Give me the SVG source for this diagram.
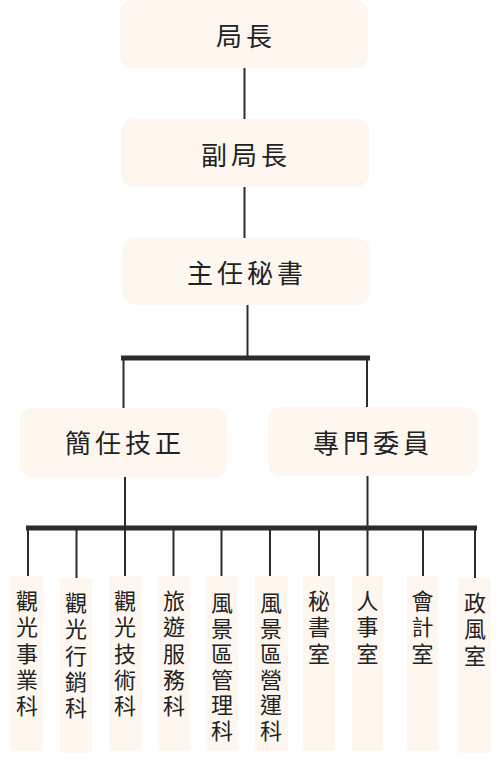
<svg xmlns="http://www.w3.org/2000/svg" width="502" height="768" viewBox="0 0 502 768">
<style>
.box{fill:#FEF7F0}
.t{font-family:"Noto Sans CJK TC","Noto Sans CJK SC",sans-serif;font-size:26px;fill:#222;text-anchor:middle;dominant-baseline:central;letter-spacing:4px}
.v{font-family:"Liberation Sans","Noto Sans CJK TC","Noto Sans CJK SC",sans-serif;font-size:22px;fill:#222;text-anchor:middle;dominant-baseline:central}
.ln{stroke:#2b2b2b;stroke-width:2;fill:none}
.bar{stroke:#2b2b2b;stroke-width:5;fill:none}
</style>
<rect width="502" height="768" fill="#fff"/>
<g id="connectors">
<line class="ln" x1="244.5" y1="68" x2="244.5" y2="119"/>
<line class="ln" x1="244.5" y1="187" x2="244.5" y2="238"/>
<line class="ln" x1="247.5" y1="305" x2="247.5" y2="358"/>
<line class="bar" x1="121" y1="358" x2="370" y2="358"/>
<line class="ln" x1="123.5" y1="358" x2="123.5" y2="408"/>
<line class="ln" x1="367" y1="358" x2="367" y2="407"/>
<line class="ln" x1="125" y1="477" x2="125" y2="528"/>
<line class="ln" x1="367.5" y1="476" x2="367.5" y2="528"/>
<line class="bar" x1="26" y1="528" x2="477" y2="528"/>
<line class="ln" x1="28" y1="528" x2="28" y2="576"/>
<line class="ln" x1="76.5" y1="528" x2="76.5" y2="578"/>
<line class="ln" x1="125" y1="528" x2="125" y2="576"/>
<line class="ln" x1="173.5" y1="528" x2="173.5" y2="576"/>
<line class="ln" x1="221.5" y1="528" x2="221.5" y2="576"/>
<line class="ln" x1="270" y1="528" x2="270" y2="576"/>
<line class="ln" x1="319" y1="528" x2="319" y2="576"/>
<line class="ln" x1="367.5" y1="528" x2="367.5" y2="576"/>
<line class="ln" x1="423" y1="528" x2="423" y2="576"/>
<line class="ln" x1="475" y1="528" x2="475" y2="578"/>
</g>
<g id="n1"><rect class="box" x="120" y="0" width="248" height="68" rx="12"/><text class="t" x="246" y="34">局長</text></g>
<g id="n2"><rect class="box" x="121" y="119" width="248" height="68" rx="12"/><text class="t" x="246" y="153">副局長</text></g>
<g id="n3"><rect class="box" x="123" y="238" width="247" height="67" rx="12"/><text class="t" x="247" y="271.5">主任秘書</text></g>
<g id="n4"><rect class="box" x="20" y="408" width="207" height="69" rx="12"/><text class="t" x="125" y="441">簡任技正</text></g>
<g id="n5"><rect class="box" x="268" y="407" width="209" height="69" rx="12"/><text class="t" x="373" y="441">專門委員</text></g>
<g id="d1"><rect class="box" x="11" y="576" width="32" height="175"/><text class="v"><tspan x="27" y="601">觀</tspan><tspan x="27" dy="26.3">光</tspan><tspan x="27" dy="26.3">事</tspan><tspan x="27" dy="26.3">業</tspan><tspan x="27" dy="26.3">科</tspan></text></g>
<g id="d2"><rect class="box" x="60" y="578" width="32" height="175"/><text class="v"><tspan x="76" y="603">觀</tspan><tspan x="76" dy="26.3">光</tspan><tspan x="76" dy="26.3">行</tspan><tspan x="76" dy="26.3">銷</tspan><tspan x="76" dy="26.3">科</tspan></text></g>
<g id="d3"><rect class="box" x="109" y="576" width="32" height="175"/><text class="v"><tspan x="125" y="601">觀</tspan><tspan x="125" dy="26.3">光</tspan><tspan x="125" dy="26.3">技</tspan><tspan x="125" dy="26.3">術</tspan><tspan x="125" dy="26.3">科</tspan></text></g>
<g id="d4"><rect class="box" x="158" y="576" width="32" height="175"/><text class="v"><tspan x="174" y="601">旅</tspan><tspan x="174" dy="26.3">遊</tspan><tspan x="174" dy="26.3">服</tspan><tspan x="174" dy="26.3">務</tspan><tspan x="174" dy="26.3">科</tspan></text></g>
<g id="d5"><rect class="box" x="206" y="576" width="32" height="175"/><text class="v"><tspan x="222" y="603">風</tspan><tspan x="222" dy="25.5">景</tspan><tspan x="222" dy="25.5">區</tspan><tspan x="222" dy="25.5">管</tspan><tspan x="222" dy="25.5">理</tspan><tspan x="222" dy="25.5">科</tspan></text></g>
<g id="d6"><rect class="box" x="255" y="576" width="33" height="175"/><text class="v"><tspan x="271" y="603">風</tspan><tspan x="271" dy="25.5">景</tspan><tspan x="271" dy="25.5">區</tspan><tspan x="271" dy="25.5">營</tspan><tspan x="271" dy="25.5">運</tspan><tspan x="271" dy="25.5">科</tspan></text></g>
<g id="d7"><rect class="box" x="303" y="576" width="32" height="175"/><text class="v"><tspan x="319" y="601">秘</tspan><tspan x="319" dy="26.3">書</tspan><tspan x="319" dy="26.3">室</tspan></text></g>
<g id="d8"><rect class="box" x="352" y="576" width="31" height="175"/><text class="v"><tspan x="367.5" y="601">人</tspan><tspan x="367.5" dy="26.3">事</tspan><tspan x="367.5" dy="26.3">室</tspan></text></g>
<g id="d9"><rect class="box" x="407" y="576" width="31" height="175"/><text class="v"><tspan x="422.5" y="601">會</tspan><tspan x="422.5" dy="26.3">計</tspan><tspan x="422.5" dy="26.3">室</tspan></text></g>
<g id="d10"><rect class="box" x="459" y="578" width="32" height="175"/><text class="v"><tspan x="475" y="603">政</tspan><tspan x="475" dy="26.3">風</tspan><tspan x="475" dy="26.3">室</tspan></text></g>
</svg>
